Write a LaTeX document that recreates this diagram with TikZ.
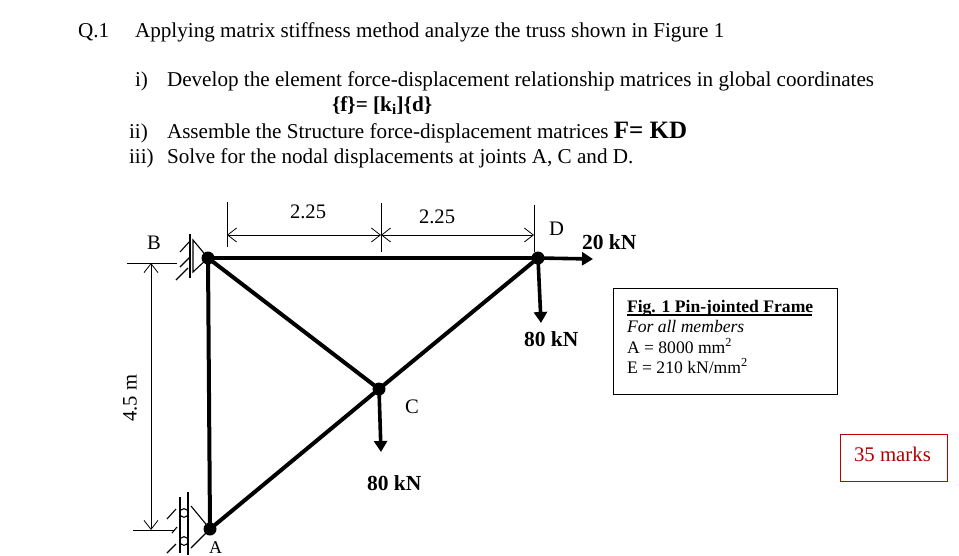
\documentclass[tikz,border=0pt]{standalone}
\usepackage{fontspec}
\setmainfont{Liberation Serif}
\usetikzlibrary{arrows.meta}
\tikzset{
 txt/.style={anchor=base west,inner sep=0pt,outer sep=0pt,font=\fontsize{21.15}{24}\selectfont,text=black},
 small/.style={txt,font=\fontsize{17.6}{20}\selectfont},
 lab/.style={txt,font=\fontsize{20.6}{22}\selectfont},
 boldl/.style={txt,font=\fontsize{21.5}{24}\selectfont\bfseries},
 member/.style={line width=4pt,black},
 load/.style={line width=3.6pt,black,-{Triangle[length=11pt,width=13pt]}},
 dim/.style={line width=.8pt,black},
 dimarrow/.style={dim,{Straight Barb[length=9pt,width=14pt,line width=.8pt]}-{Straight Barb[length=9pt,width=14pt,line width=.8pt]}},
 supp/.style={line width=1.1pt,black},
 joint/.style={circle,fill=black,inner sep=0pt,minimum size=13pt},
}
\begin{document}
\begin{tikzpicture}[x=1pt,y=-1pt]
\useasboundingbox (0,0) rectangle (959,555);
\fill[white] (0,0) rectangle (959,555);
% text
\node[txt] (q) at (78,37) {Q.1};
\node[txt] (l0) at (135,37) {Applying matrix stiffness method analyze the truss shown in Figure 1};
\node[txt] (i) at (135,86) {i)};
\node[txt] (l1) at (167,86) {Develop the element force-displacement relationship matrices in global coordinates};
\node[txt,font=\fontsize{21.2}{24}\selectfont\bfseries] (f) at (332,111) {\{f\}= [k\textsubscript{i}]\{d\}};
\node[txt] (ii) at (129,138) {ii)};
\node[txt] (l2) at (167,138) {Assemble the Structure force-displacement matrices \textbf{\fontsize{25}{28}\selectfont F= KD}};
\node[txt] (iii) at (129,163) {iii)};
\node[txt] (l3) at (167,163) {Solve for the nodal displacements at joints A, C and D.};
% joints
\node[joint] (B) at (208,258) {};
\node[joint] (D) at (538,258) {};
\node[joint] (C) at (379,389) {};
\node[joint] (A) at (210,529) {};
\coordinate (Fh) at (593,259);
\coordinate (Fd) at (541,323);
\coordinate (Fc) at (381,452);
% members
\draw[member] (B.center) -- (A.center);
\draw[member] (B.center) -- (C.center);
\draw[member] (B.center) -- (D.center);
\draw[member] (A.center) -- (C.center);
\draw[member] (C.center) -- (D.center);
\draw[load] (D.center) -- (Fh);
\draw[load] (D.center) -- (Fd);
\draw[load] (C.center) -- (Fc);
% horizontal dimension
\coordinate (h1) at (227,235); \coordinate (h2) at (381,235); \coordinate (h3) at (534,235);
\draw[dim] (227,202) -- (227,247);
\draw[dim] (381,203) -- (381,252);
\draw[dim] (534,205) -- (534,252);
\draw[dimarrow] (h1) -- (h2);
\draw[dimarrow] (h2) -- (h3);
\node[lab] (d1) at (290,218) {2.25};
\node[lab] (d2) at (419,223) {2.25};
% vertical dimension
\coordinate (v1) at (151,263); \coordinate (v2) at (151,530);
\draw[dim] (127,263) -- (177,263);
\draw[dim] (133,530) -- (175,530);
\draw[dimarrow] (v1) -- (v2);
\node[lab,rotate=90,anchor=center] (vl) at (130,398) {4.5 m};
% labels
\node[lab] (lb) at (147,249) {B};
\node[lab] (ld) at (549,235) {D};
\node[lab] (lc) at (405,413) {C};
\node[lab,font=\fontsize{18}{20}\selectfont] (la) at (209,553.5) {A};
\node[boldl] (f1) at (582,249) {20 kN};
\node[boldl] (f2) at (524,346) {80 kN};
\node[boldl] (f3) at (367,490) {80 kN};
% support B
\draw[line width=2.4pt] (190,234) -- (190,278);
\draw[supp] (193,240) -- (B.center) -- (193,272) -- cycle;
\draw[supp] (180,252) -- (190,241) (180,267) -- (190,257) (176,280) -- (188,268);
% support A
\draw[line width=2.4pt] (188,492) -- (188,555);
\draw[line width=1.1pt] (180,497) -- (180,553);
\draw[supp] (184,513) circle (4.3) (184,541) circle (4.3);
\draw[supp] (191,506) -- (A.center) -- (191,548);
\draw[supp] (167,519) -- (176,509) (167,553) -- (176,544) (172,533) -- (177,527);
% info box
\node[draw=black,line width=1pt,anchor=north west,minimum width=224pt,minimum height=106pt] (box) at (613,288) {};
\node[txt,font=\fontsize{17.6}{20}\selectfont\bfseries] (b1) at (627,312) {Fig. 1 Pin-jointed Frame};
\draw[line width=1.1pt] (627,315) -- (812,315);
\node[small] (b2) at (627,332) {\textit{For all members}};
\node[small] (b3) at (627,353) {A = 8000 mm\textsuperscript{2}};
\node[small] (b4) at (627,373) {E = 210 kN/mm\textsuperscript{2}};
% marks box
\node[draw=red!75!black,line width=.8pt,anchor=north west,minimum width=107pt,minimum height=47pt] (m) at (840,434) {};
\node[txt,font=\fontsize{20.8}{22}\selectfont,text=red!70!black] (mt) at (854,461) {35 marks};
\end{tikzpicture}
\end{document}
